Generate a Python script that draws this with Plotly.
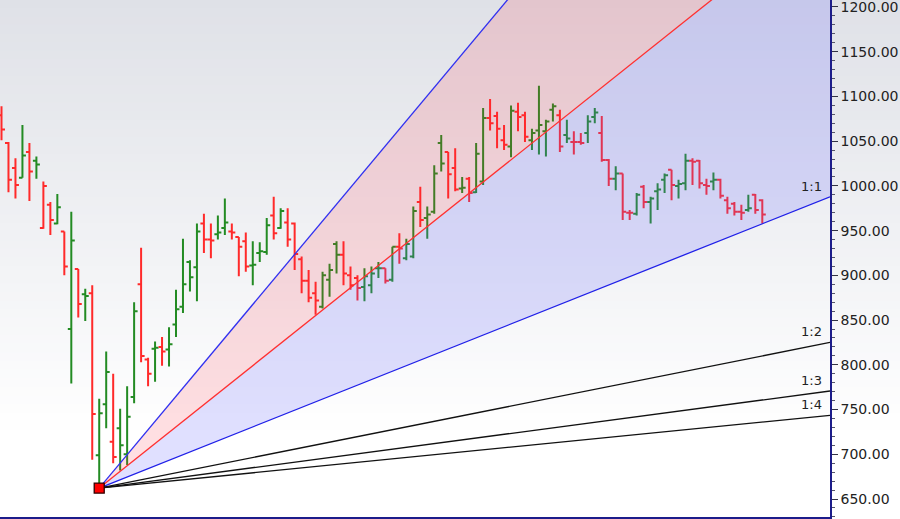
import plotly.graph_objects as go

# ---------------- data ----------------
opens = [1079, 1048, 1020, 1009, 1038, 1028, 953, 979, 958, 949,
         840, 907, 879, 880, 699, 756, 714, 729, 700, 764,
         890, 806, 818, 820, 817, 845, 865, 915, 909, 958,
         940, 946, 953, 949, 943, 938, 911, 925, 926, 967,
         953, 959, 958, 918, 894, 880, 865, 895, 935, 923,
         900, 897, 887, 889, 908, 908, 895, 932, 919, 921,
         982, 964, 971, 1048, 1038, 1020, 997, 1008, 993, 1005,
         1076, 1078, 1051, 1044, 1083, 1079, 1051, 1062, 1061, 1085,
         1079, 1057, 1049, 1049, 1059, 1077, 1059, 1029, 1008, 1014,
         970, 969, 999, 982, 994, 1007, 1018, 1000, 1003, 1028,
         1028, 1001, 1005, 1007, 984, 980, 971, 973, 990, 984]
highs = [1089, 1049, 1031, 1068, 1048, 1033, 1005, 982, 991, 949,
         971, 907, 885, 889, 762, 815, 790, 751, 776, 870,
         931, 808, 826, 831, 842, 884, 941, 917, 958, 969,
         958, 967, 986, 958, 943, 948, 938, 937, 964, 988,
         975, 975, 959, 921, 906, 893, 904, 913, 938, 938,
         910, 900, 908, 910, 915, 908, 932, 947, 941, 977,
         999, 977, 1023, 1057, 1038, 1042, 1010, 1010, 1048, 1087,
         1097, 1083, 1068, 1090, 1093, 1083, 1064, 1112, 1074, 1092,
         1085, 1074, 1061, 1059, 1079, 1087, 1078, 1030, 1022, 1014,
         973, 992, 1001, 988, 1003, 1014, 1018, 1007, 1036, 1031,
         1029, 1008, 1015, 1008, 988, 982, 979, 990, 991, 985]
lows = [1051, 993, 986, 1009, 983, 1008, 952, 945, 957, 900,
        779, 853, 849, 694, 662, 729, 690, 682, 688, 757,
        803, 776, 781, 799, 798, 831, 858, 882, 871, 925,
        919, 940, 945, 940, 899, 904, 889, 915, 923, 940,
        952, 932, 906, 880, 870, 856, 863, 876, 902, 889,
        884, 872, 871, 880, 897, 891, 893, 913, 917, 919,
        954, 941, 969, 1016, 986, 994, 992, 982, 992, 1001,
        1062, 1042, 1040, 1032, 1061, 1049, 1040, 1035, 1033, 1072,
        1038, 1048, 1035, 1046, 1048, 1070, 1027, 1000, 995, 962,
        962, 967, 975, 958, 973, 992, 984, 986, 995, 1001,
        997, 990, 995, 986, 969, 967, 962, 971, 969, 958]
closes = [1063, 1007, 1001, 1034, 1016, 1024, 1000, 962, 976, 910,
          939, 868, 877, 745, 746, 792, 697, 710, 742, 860,
          810, 790, 819, 815, 823, 862, 890, 898, 949, 940,
          939, 948, 959, 948, 932, 910, 912, 927, 956, 947,
          972, 940, 924, 894, 875, 872, 900, 906, 923, 902,
          889, 886, 899, 902, 908, 894, 932, 930, 935, 972,
          962, 968, 1014, 1025, 1013, 996, 998, 992, 1036, 1076,
          1070, 1064, 1046, 1084, 1077, 1055, 1059, 1068, 1072, 1089,
          1044, 1053, 1049, 1048, 1072, 1082, 1029, 1008, 1014, 971,
          970, 990, 982, 986, 996, 1012, 1001, 1002, 1028, 1027,
          1003, 1000, 1007, 989, 975, 971, 970, 975, 973, 968]

pivot_index = 14
pivot_price = 662.2
price_per_bar = 3.11           # 1:1 unit of the Gann fan
fan_ratios = [3, 2, 1, 1 / 2, 1 / 3, 1 / 4]
fan_labels = ["", "", "1:1", "1:2", "1:3", "1:4"]
fan_colors = ["#3030f0", "#ff3030", "#2020e8", "#111111", "#111111", "#111111"]
y_ticks = [650, 700, 750, 800, 850, 900, 950, 1000, 1050, 1100, 1150, 1200]

# ---------------- figure ----------------
x_min, x_max = -0.215, 118.7
y_min, y_max = 629.9, 1207.8
label_font = dict(family="DejaVu Sans, Verdana, sans-serif", size=13, color="#222222")
tick_font = dict(family="DejaVu Sans, Verdana, sans-serif", size=14, color="#222222")

idx = list(range(len(closes)))
up = [i > 0 and closes[i] > closes[i - 1] for i in idx]

fig = go.Figure()


def fan_value(ratio, xv):
    return pivot_price + ratio * price_per_bar * (xv - pivot_index)


# shaded fan zones
zones = [(fan_ratios[0], fan_ratios[1], "rgba(255,40,60,0.15)"),
         (fan_ratios[1], fan_ratios[2], "rgba(100,100,255,0.20)")]
for r_hi, r_lo, col in zones:
    fig.add_trace(go.Scatter(
        x=[pivot_index, x_max, x_max, pivot_index],
        y=[pivot_price, fan_value(r_hi, x_max), fan_value(r_lo, x_max), pivot_price],
        fill="toself", fillcolor=col, mode="lines", line=dict(width=0),
        hoverinfo="skip", showlegend=False))

# fan lines
for r, col in zip(fan_ratios, fan_colors):
    fig.add_trace(go.Scatter(
        x=[pivot_index, x_max], y=[pivot_price, fan_value(r, x_max)],
        mode="lines", line=dict(color=col, width=1.3),
        hoverinfo="skip", showlegend=False))

# OHLC bars, coloured by close-to-close change
for flag, col in [(True, "#238b23"), (False, "#ff2a2a")]:
    sel = [i for i in idx if up[i] == flag]
    fig.add_trace(go.Ohlc(
        x=sel,
        open=[opens[i] for i in sel], high=[highs[i] for i in sel],
        low=[lows[i] for i in sel], close=[closes[i] for i in sel],
        increasing=dict(line=dict(color=col, width=2)),
        decreasing=dict(line=dict(color=col, width=2)),
        tickwidth=0.5, showlegend=False, hoverinfo="skip"))

# pivot marker
fig.add_trace(go.Scatter(
    x=[pivot_index], y=[pivot_price], mode="markers",
    marker=dict(symbol="square", size=10, color="#ff0000",
                line=dict(color="#300000", width=1.3)),
    hoverinfo="skip", showlegend=False))

# labels of the fan lines
for r, lab in zip(fan_ratios, fan_labels):
    if lab:
        fig.add_annotation(x=x_max, y=fan_value(r, x_max), text=lab,
                           showarrow=False, xanchor="right", yanchor="bottom",
                           xshift=-6, yshift=1, font=label_font)

# gradient background
n = 60
shapes = []
for k in range(n):
    y0 = 1 - k / n
    y1 = 1 - (k + 1) / n
    t = min(1.0, ((k + 0.5) / n) * 519 / 440)
    r = int(round(223 + (255 - 223) * t))
    g = int(round(225 + (255 - 225) * t))
    b = int(round(231 + (255 - 231) * t))
    shapes.append(dict(type="rect", xref="paper", yref="paper",
                       x0=0, x1=1.2, y0=y1 - 0.002, y1=y0 + 0.002,
                       fillcolor=f"rgb({r},{g},{b})", line=dict(width=0),
                       layer="below"))

fig.update_layout(
    width=900, height=519,
    margin=dict(l=0, r=70, t=0, b=2, autoexpand=False),
    paper_bgcolor="white", plot_bgcolor="rgba(0,0,0,0)",
    showlegend=False, shapes=shapes,
    xaxis=dict(range=[x_min, x_max], showgrid=False, zeroline=False,
               showticklabels=False, ticks="", showline=True, automargin=False,
               linecolor="#1c1c8a", linewidth=1.5, rangeslider=dict(visible=False)),
    yaxis=dict(range=[y_min, y_max], side="right", showgrid=False, zeroline=False,
               automargin=False, ticklabeloverflow="allow",
               tickvals=y_ticks, ticktext=[f"{v:.2f}" for v in y_ticks],
               ticks="outside", ticklen=6, tickcolor="#333344", tickwidth=1,
               showline=True, linecolor="#1c1c8a", linewidth=1.5,
               minor=dict(dtick=10, tick0=650, ticks="outside", ticklen=3,
                          tickcolor="#555566"),
               tickfont=tick_font),
)

fig.write_html("out.html",
               config={"displayModeBar": False},
               post_script="document.body.style.margin='0';"
                           "document.body.style.overflow='hidden';")
